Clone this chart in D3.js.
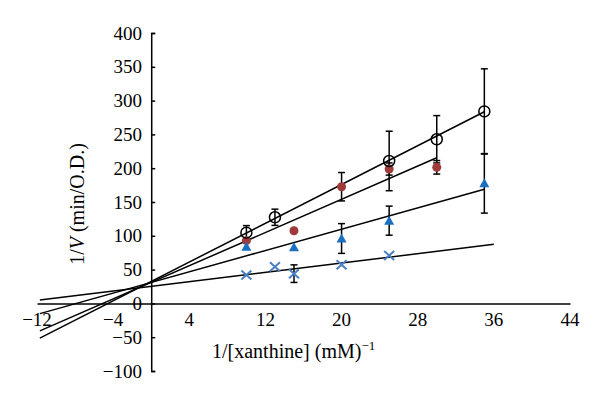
<!DOCTYPE html>
<html><head><meta charset="utf-8">
<script src="https://cdn.jsdelivr.net/npm/d3@7"></script>
<style>body{margin:0;background:#fff}svg{display:block}</style>
</head><body>
<svg id="c" width="600" height="403"></svg>
<script>
// ---- data ----
const xTicks = [-12, -4, 4, 12, 20, 28, 36, 44];
const yTicks = [-100, -50, 0, 50, 100, 150, 200, 250, 300, 350, 400];

const circleX = [10, 13, 25, 30, 35];
const circleY = [104.6, 127.4, 210.7, 242.8, 284];
const circleErr = [10.5, 12, 44, 35, 63];

const redX = [10, 15, 20, 25, 30];
const redY = [92.8, 107.5, 172.6, 198.8, 201.3];
const redErr = [0, 0, 21, 9, 10];

const triX = [10, 15, 20, 25, 35];
const triY = [83.9, 83, 96, 122.4, 177.6];
const triErr = [0, 0, 22, 21.5, 44];

const crossX = [10, 13, 15, 20, 25];
const crossY = [42, 54.3, 44, 57, 71];
const crossErr = [0, 0, 13, 0, 0];

// regression lines (circle, red, triangle, cross)
const lineSlope = [7.17, 6.14, 3.94, 1.73];
const lineIntercept = [32.5, 31.2, 31.0, 25.1];
const lineXStart = [-11.7, -11.7, -11.7, -11.7];
const lineXEnd = [35, 30, 35, 36];

// ---- drawing ----
const svg = d3.select("#c");
const x = d3.scaleLinear().domain([-12, 44]).range([37, 570]);
const y = d3.scaleLinear().domain([-100, 400]).range([371, 33]);
const font = "'Liberation Serif', 'DejaVu Serif', serif";

// x axis at y=0
const xAxis = d3.axisBottom(x).tickValues(xTicks).tickSize(0).tickFormat("");
svg.append("g").attr("transform", `translate(0,${y(0)})`).call(xAxis)
  .call(g => g.select(".domain").attr("stroke", "#000").attr("stroke-width", 1.5));
svg.append("g").selectAll("text").data(xTicks).join("text")
  .attr("x", d => x(d)).attr("y", 326)
  .attr("text-anchor", "middle").attr("font-family", font).attr("font-size", 19)
  .text(d => d < 0 ? "\u2212" + Math.abs(d) : d);

// y axis at x=0, ticks inside
const yAxis = d3.axisRight(y).tickValues(yTicks).tickSize(4).tickSizeOuter(4).tickFormat("");
svg.append("g").attr("transform", `translate(${x(0)},0)`).call(yAxis)
  .call(g => g.select(".domain").attr("stroke", "#000").attr("stroke-width", 1.5))
  .call(g => g.selectAll(".tick line").attr("stroke", "#000").attr("stroke-width", 1.5));
svg.append("g").selectAll("text").data(yTicks).join("text")
  .attr("x", 142).attr("y", d => y(d)).attr("dy", "0.35em")
  .attr("text-anchor", "end").attr("font-family", font).attr("font-size", 19)
  .text(d => d < 0 ? "\u2212" + Math.abs(d) : d);

// titles
const xt = svg.append("text").attr("x", 212).attr("y", 358)
  .attr("font-family", font).attr("font-size", 20);
xt.append("tspan").text("1/[xanthine] (mM)");
xt.append("tspan").attr("dy", -8).attr("font-size", 13).text("\u22121");

const yt = svg.append("text").attr("transform", "translate(84,204) rotate(-90)")
  .attr("text-anchor", "middle").attr("font-family", font).attr("font-size", 20);
yt.append("tspan").text("1/");
yt.append("tspan").attr("font-style", "italic").text("V");
yt.append("tspan").text(" (min/O.D.)");

// trend lines
const lines = lineSlope.map((s, i) => ({s, b: lineIntercept[i], x0: lineXStart[i], x1: lineXEnd[i]}));
svg.append("g").selectAll("line").data(lines).join("line")
  .attr("x1", d => x(d.x0)).attr("y1", d => y(d.b + d.s * d.x0))
  .attr("x2", d => x(d.x1)).attr("y2", d => y(d.b + d.s * d.x1))
  .attr("stroke", "#000").attr("stroke-width", 1.5);

// error bars
function errBars(xs, ys, es) {
  const data = xs.map((v, i) => ({x: v, y: ys[i], e: es[i]})).filter(d => d.e > 0);
  const g = svg.append("g").attr("stroke", "#000").attr("stroke-width", 1.5);
  g.selectAll("line.v").data(data).join("line").attr("class", "v")
    .attr("x1", d => x(d.x)).attr("x2", d => x(d.x))
    .attr("y1", d => y(d.y - d.e)).attr("y2", d => y(d.y + d.e));
  g.selectAll("line.t").data(data).join("line").attr("class", "t")
    .attr("x1", d => x(d.x) - 3.5).attr("x2", d => x(d.x) + 3.5)
    .attr("y1", d => y(d.y + d.e)).attr("y2", d => y(d.y + d.e));
  g.selectAll("line.b").data(data).join("line").attr("class", "b")
    .attr("x1", d => x(d.x) - 3.5).attr("x2", d => x(d.x) + 3.5)
    .attr("y1", d => y(d.y - d.e)).attr("y2", d => y(d.y - d.e));
}
errBars(circleX, circleY, circleErr);
errBars(redX, redY, redErr);
errBars(triX, triY, triErr);
errBars(crossX, crossY, crossErr);

// markers
svg.append("g").selectAll("circle").data(redX.map((v, i) => [v, redY[i]])).join("circle")
  .attr("cx", d => x(d[0])).attr("cy", d => y(d[1])).attr("r", 4.5).attr("fill", "#a03a3a");

svg.append("g").selectAll("path").data(triX.map((v, i) => [v, triY[i]])).join("path")
  .attr("transform", d => `translate(${x(d[0])},${y(d[1])})`)
  .attr("d", "M0,-5L5,4L-5,4Z").attr("fill", "#1a6fc0");

svg.append("g").selectAll("path").data(crossX.map((v, i) => [v, crossY[i]])).join("path")
  .attr("transform", d => `translate(${x(d[0])},${y(d[1])})`)
  .attr("d", "M-5,-4.5L5,4.5M-5,4.5L5,-4.5")
  .attr("stroke", "#4a7fc0").attr("stroke-width", 2).attr("fill", "none");

svg.append("g").selectAll("circle").data(circleX.map((v, i) => [v, circleY[i]])).join("circle")
  .attr("cx", d => x(d[0])).attr("cy", d => y(d[1])).attr("r", 5.5)
  .attr("fill", "none").attr("stroke", "#000").attr("stroke-width", 1.5);
</script>
</body></html>
